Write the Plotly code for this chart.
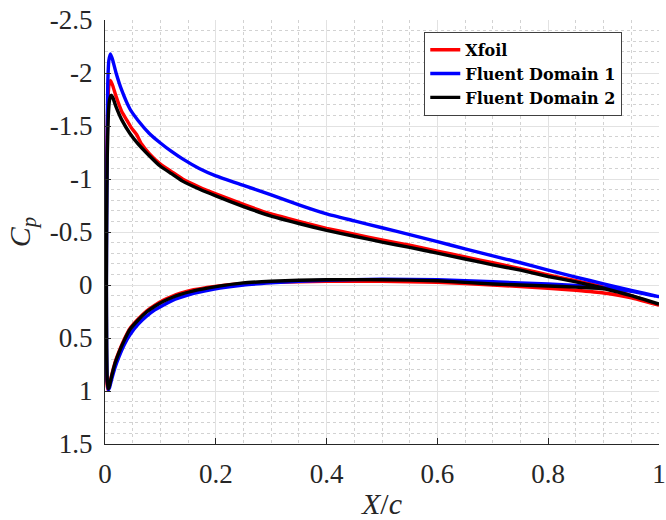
import plotly.graph_objects as go

# ---------------- data: x/c and Cp ----------------
# upper surface listed from trailing edge to leading edge; lower surface from LE to TE
xfoil_up_x = [1.0, 0.95, 0.9, 0.85, 0.8, 0.75, 0.7, 0.65, 0.6, 0.55, 0.5, 0.45, 0.4, 0.35, 0.3, 0.25, 0.2,
              0.17, 0.14, 0.12, 0.1, 0.08, 0.066, 0.057, 0.048, 0.04, 0.03, 0.02, 0.014, 0.01, 0.007, 0.005,
              0.003, 0.0015, 0.001, 0.0015, 0.003]
xfoil_up_cp = [0.19, 0.10, 0.02, -0.04, -0.095, -0.155, -0.21, -0.265, -0.32, -0.375, -0.425, -0.48, -0.535,
               -0.60, -0.67, -0.76, -0.86, -0.925, -1.0, -1.07, -1.14, -1.24, -1.33, -1.42, -1.48, -1.55, -1.64,
               -1.78, -1.88, -1.93, -1.88, -1.70, -1.20, -0.50, 0.0, 0.60, 0.90]
xfoil_lo_x = [0.005, 0.008, 0.012, 0.018, 0.025, 0.035, 0.045, 0.06, 0.075, 0.09, 0.105, 0.12, 0.135, 0.16,
              0.195, 0.25, 0.3, 0.35, 0.4, 0.5, 0.6, 0.7, 0.8, 0.85, 0.9, 0.95, 1.0]
xfoil_lo_cp = [0.99, 0.94, 0.85, 0.73, 0.63, 0.51, 0.41, 0.32, 0.245, 0.19, 0.145, 0.11, 0.08, 0.045, 0.015,
               -0.015, -0.025, -0.03, -0.035, -0.035, -0.025, 0.0, 0.03, 0.05, 0.075, 0.12, 0.19]

dom1_up_x = [1.0, 0.95, 0.9, 0.85, 0.8, 0.75, 0.7, 0.65, 0.6, 0.55, 0.5, 0.45, 0.4, 0.35, 0.3, 0.25, 0.2,
             0.17, 0.14, 0.12, 0.1, 0.08, 0.06, 0.045, 0.03, 0.02, 0.014, 0.01, 0.007, 0.005, 0.004, 0.003,
             0.0025, 0.003, 0.004]
dom1_up_cp = [0.11, 0.05, -0.01, -0.075, -0.14, -0.21, -0.275, -0.34, -0.41, -0.475, -0.54, -0.605, -0.67,
              -0.755, -0.85, -0.94, -1.03, -1.10, -1.19, -1.26, -1.34, -1.43, -1.55, -1.66, -1.84, -2.0, -2.12,
              -2.18, -2.12, -1.90, -1.40, -0.60, 0.0, 0.60, 0.90]
dom1_lo_x = [0.006, 0.008, 0.012, 0.018, 0.025, 0.035, 0.045, 0.06, 0.075, 0.09, 0.105, 0.12, 0.135, 0.16,
             0.195, 0.25, 0.3, 0.35, 0.4, 0.5, 0.6, 0.7, 0.8, 0.85, 0.9, 0.95, 1.0]
dom1_lo_cp = [0.99, 0.97, 0.89, 0.78, 0.68, 0.56, 0.47, 0.37, 0.295, 0.235, 0.19, 0.15, 0.12, 0.08, 0.04,
              0.0, -0.02, -0.035, -0.045, -0.055, -0.05, -0.03, -0.01, 0.005, 0.025, 0.06, 0.11]

dom2_up_x = [1.0, 0.95, 0.9, 0.85, 0.8, 0.75, 0.7, 0.65, 0.6, 0.55, 0.5, 0.45, 0.4, 0.35, 0.3, 0.25, 0.2,
             0.17, 0.14, 0.12, 0.1, 0.08, 0.06, 0.045, 0.03, 0.02, 0.014, 0.011, 0.008, 0.006, 0.004, 0.003,
             0.0025, 0.003, 0.004]
dom2_up_cp = [0.18, 0.10, 0.03, -0.03, -0.08, -0.14, -0.19, -0.245, -0.30, -0.355, -0.405, -0.46, -0.515,
              -0.58, -0.65, -0.74, -0.84, -0.905, -0.98, -1.05, -1.12, -1.22, -1.33, -1.43, -1.56, -1.68, -1.77,
              -1.79, -1.74, -1.60, -1.20, -0.60, 0.0, 0.60, 0.90]
dom2_lo_x = [0.006, 0.008, 0.012, 0.018, 0.025, 0.035, 0.045, 0.06, 0.075, 0.09, 0.105, 0.12, 0.135, 0.16,
             0.195, 0.25, 0.3, 0.35, 0.4, 0.5, 0.6, 0.7, 0.8, 0.85, 0.9, 0.95, 1.0]
dom2_lo_cp = [0.98, 0.95, 0.86, 0.74, 0.64, 0.52, 0.42, 0.33, 0.255, 0.20, 0.155, 0.12, 0.09, 0.055, 0.02,
              -0.02, -0.035, -0.045, -0.05, -0.05, -0.04, -0.01, 0.01, 0.02, 0.035, 0.10, 0.18]

series_names = ["Xfoil", "Fluent Domain 1", "Fluent Domain 2"]
series_colors = ["#ff0000", "#0000ff", "#000000"]

x_ticks = [0, 0.2, 0.4, 0.6, 0.8, 1]
x_ticktext = ["0", "0.2", "0.4", "0.6", "0.8", "1"]
y_ticks = [-2.5, -2, -1.5, -1, -0.5, 0, 0.5, 1, 1.5]
y_ticktext = ["-2.5", "-2", "-1.5", "-1", "-0.5", "0", "0.5", "1", "1.5"]

FONT = "Liberation Serif"
TXT = "#262626"

series = [
    (xfoil_up_x + xfoil_lo_x, xfoil_up_cp + xfoil_lo_cp),
    (dom1_up_x + dom1_lo_x, dom1_up_cp + dom1_lo_cp),
    (dom2_up_x + dom2_lo_x, dom2_up_cp + dom2_lo_cp),
]

fig = go.Figure()
for (xs, ys), name, col in zip(series, series_names, series_colors):
    fig.add_trace(go.Scatter(x=xs, y=ys, mode="lines", name="<b>" + name + "</b>",
                             line=dict(color=col, width=3.4, shape="spline", smoothing=0.4)))

axis_common = dict(
    showline=True, linecolor=TXT, linewidth=1,
    ticks="inside", ticklen=6, tickcolor=TXT,
    showgrid=True, gridcolor="#e2e2e2", gridwidth=1,
    zeroline=False, mirror=False, automargin=False,
    ticklabeloverflow="allow",
    tickfont=dict(family=FONT, size=27, color=TXT),
)

fig.update_xaxes(
    range=[0, 1], tickvals=x_ticks, ticktext=x_ticktext, ticklabelstandoff=6,
    minor=dict(dtick=0.05, showgrid=True, gridcolor="#d2d2d2", griddash="dot", gridwidth=1, ticks=""),
    title=dict(text="<i>X</i>/<i>c</i>", font=dict(family=FONT, size=30, color=TXT), standoff=4),
    **axis_common,
)
fig.update_yaxes(
    range=[1.5, -2.5], tickvals=y_ticks, ticktext=y_ticktext, ticklabelstandoff=6,
    minor=dict(dtick=0.1, showgrid=True, gridcolor="#d2d2d2", griddash="dot", gridwidth=1, ticks=""),
    title=dict(text="<i>C</i><sub><i>p</i></sub>", font=dict(family=FONT, size=30, color=TXT), standoff=10),
    **axis_common,
)

fig.update_layout(
    width=666, height=520,
    margin=dict(l=105, r=7, t=20, b=76),
    plot_bgcolor="white", paper_bgcolor="white",
    showlegend=True,
    legend=dict(
        x=0.755, y=0.873, xanchor="center", yanchor="middle",
        bgcolor="white", bordercolor="#404040", borderwidth=1,
        font=dict(family="DejaVu Serif", size=16, color="black"),
        tracegroupgap=0,
    ),
)

fig.write_html("out.html", config={"displayModeBar": False},
               post_script="document.body.style.margin='0';")
